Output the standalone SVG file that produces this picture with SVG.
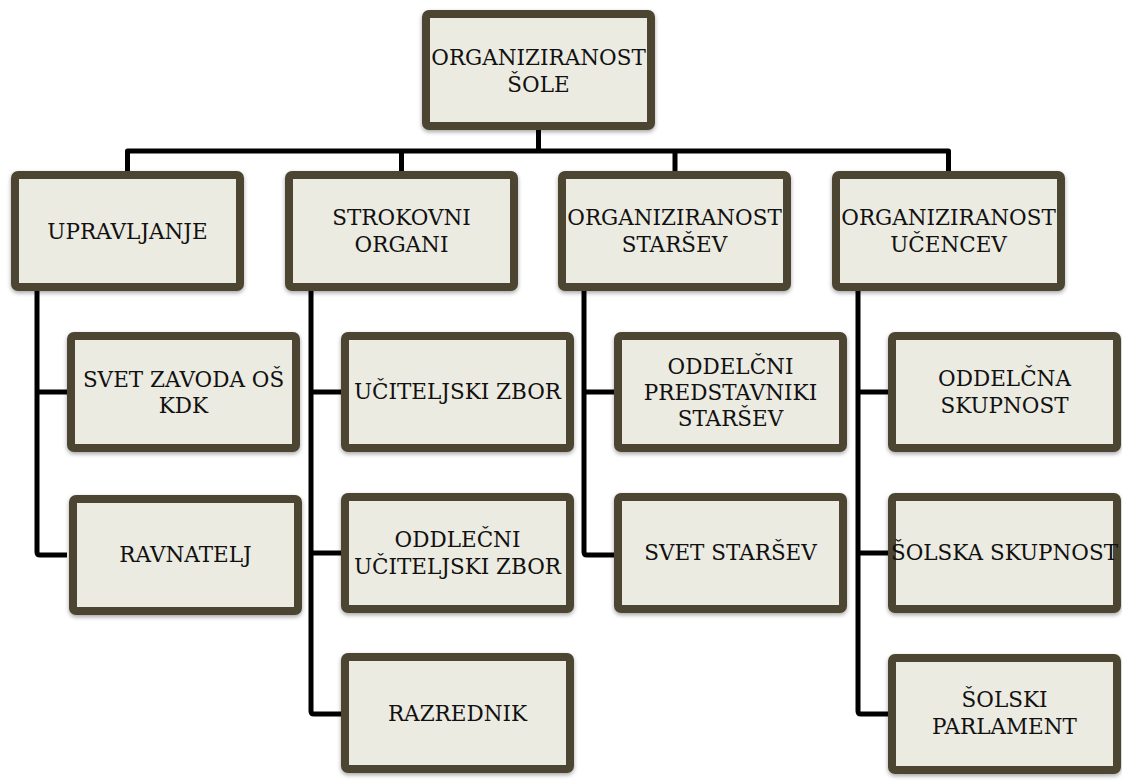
<svg xmlns="http://www.w3.org/2000/svg" width="1122" height="781" viewBox="0 0 1122 781">
<style>
.box{fill:#ecebe1;stroke:#4b4530;stroke-width:8;filter:url(#sh)}
.t{font-family:"DejaVu Serif","Liberation Serif",serif;font-size:21.5px;fill:#111;text-anchor:middle}
.c{fill:none;stroke:#000;stroke-width:5;stroke-linejoin:round}
</style>
<defs>
<filter id="sh" x="-10%" y="-10%" width="120%" height="130%">
<feDropShadow dx="0" dy="2" stdDeviation="2" flood-color="#000" flood-opacity="0.35"/>
</filter>
</defs>
<rect width="1122" height="781" fill="#fff"/>
<g id="connectors">
<path class="c" d="M538.5,130 V151 M127.5,171 V151 H948.5 V171 M401.5,151 V171 M675,151 V171"/>
<path class="c" d="M37,291 V552 Q37,555 40,555 H67 M37,392 H67"/>
<path class="c" d="M311,291 V711 Q311,714 314,714 H341 M311,392 H341 M311,553 H341"/>
<path class="c" d="M584,291 V552 Q584,555 587,555 H614 M584,392 H614"/>
<path class="c" d="M858,291 V711 Q858,714 861,714 H888 M858,392 H888 M858,553 H888"/>
</g>
<g id="n-root"><rect class="box" x="426" y="14" width="225" height="112" rx="3"/><text class="t" x="538.5" y="65">ORGANIZIRANOST</text><text class="t" x="538.5" y="92">ŠOLE</text></g>
<g id="n-upravljanje"><rect class="box" x="15" y="175" width="225" height="112" rx="3"/><text class="t" x="127.5" y="239">UPRAVLJANJE</text></g>
<g id="n-strokovni"><rect class="box" x="289" y="175" width="225" height="112" rx="3"/><text class="t" x="401.5" y="225">STROKOVNI</text><text class="t" x="401.5" y="252">ORGANI</text></g>
<g id="n-starsev"><rect class="box" x="562" y="175" width="225" height="112" rx="3"/><text class="t" x="674.5" y="225">ORGANIZIRANOST</text><text class="t" x="674.5" y="252">STARŠEV</text></g>
<g id="n-ucencev"><rect class="box" x="836" y="175" width="225" height="112" rx="3"/><text class="t" x="948.5" y="225">ORGANIZIRANOST</text><text class="t" x="948.5" y="252">UČENCEV</text></g>
<g id="n-svet-zavoda"><rect class="box" x="71" y="336" width="225" height="112" rx="3"/><text class="t" x="183.5" y="387">SVET ZAVODA OŠ</text><text class="t" x="183.5" y="413">KDK</text></g>
<g id="n-ravnatelj"><rect class="box" x="73" y="499" width="225" height="112" rx="3"/><text class="t" x="185.5" y="562">RAVNATELJ</text></g>
<g id="n-uciteljski"><rect class="box" x="345" y="336" width="225" height="112" rx="3"/><text class="t" x="457.5" y="399">UČITELJSKI ZBOR</text></g>
<g id="n-oddlecni"><rect class="box" x="345" y="497" width="225" height="112" rx="3"/><text class="t" x="457.5" y="547">ODDLEČNI</text><text class="t" x="457.5" y="574">UČITELJSKI ZBOR</text></g>
<g id="n-razrednik"><rect class="box" x="345" y="657" width="225" height="112" rx="3"/><text class="t" x="457.5" y="721">RAZREDNIK</text></g>
<g id="n-predstavniki"><rect class="box" x="618" y="336" width="225" height="112" rx="3"/><text class="t" x="730.5" y="374">ODDELČNI</text><text class="t" x="730.5" y="400">PREDSTAVNIKI</text><text class="t" x="730.5" y="426">STARŠEV</text></g>
<g id="n-svet-starsev"><rect class="box" x="618" y="497" width="225" height="112" rx="3"/><text class="t" x="730.5" y="560">SVET STARŠEV</text></g>
<g id="n-oddelcna"><rect class="box" x="892" y="336" width="225" height="112" rx="3"/><text class="t" x="1004.5" y="386">ODDELČNA</text><text class="t" x="1004.5" y="413">SKUPNOST</text></g>
<g id="n-solska"><rect class="box" x="892" y="497" width="225" height="112" rx="3"/><text class="t" x="1004.5" y="560">ŠOLSKA SKUPNOST</text></g>
<g id="n-parlament"><rect class="box" x="892" y="658" width="225" height="112" rx="3"/><text class="t" x="1004.5" y="707">ŠOLSKI</text><text class="t" x="1004.5" y="734">PARLAMENT</text></g>
</svg>
